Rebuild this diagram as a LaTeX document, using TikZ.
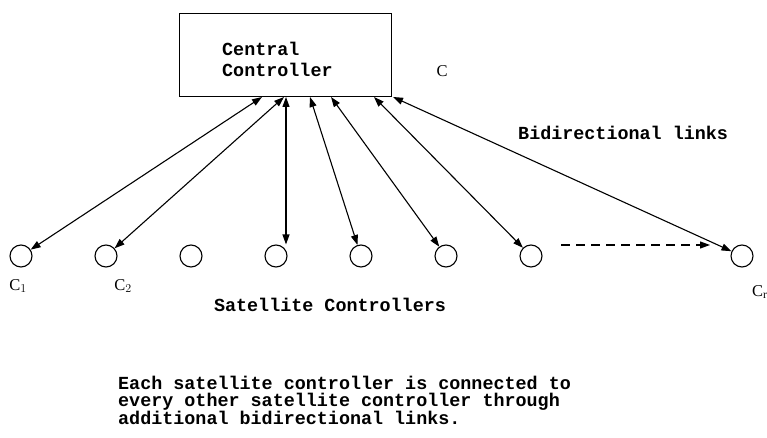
\documentclass[tikz,border=0pt]{standalone}
\usepackage{fontspec}
\setmonofont{Liberation Mono}
\setmainfont{Liberation Serif}
\usetikzlibrary{arrows.meta,calc}
\begin{document}
\begin{tikzpicture}[x=1pt,y=-1pt,
  lbl/.style={font=\fontsize{18.4}{17}\selectfont\ttfamily\bfseries, inner sep=0pt, anchor=west, align=left},
  sat/.style={circle, draw, line width=1.1pt, minimum size=22pt, inner sep=0pt},
  serifl/.style={font=\fontsize{16.5}{16.5}\selectfont\rmfamily, inner sep=0pt},
  link/.style={line width=1.1pt, {Triangle[length=10pt,width=7pt]}-{Triangle[length=10pt,width=7pt]}},
  every node/.style={inner sep=0pt}]
\useasboundingbox (0,0) rectangle (767,438);
\node[draw, line width=1.1pt, minimum width=212pt, minimum height=83.5pt] (box) at (285.5,55) {};
\node[lbl] (cc) at (222,59) {Central\\[4pt]Controller};
\node[serifl] (clab) at (442,71) {C};
\foreach \i/\x in {1/21,2/106,3/191,4/276,5/361,6/446,7/531,8/742}
  \node[sat] (c\i) at (\x,256) {};
\coordinate (p1) at (262,97);
\coordinate (p2) at (284,97);
\coordinate (p3) at (286,97);
\coordinate (p4) at (310,97);
\coordinate (p5) at (331,97);
\coordinate (p6) at (374,97);
\coordinate (p7) at (393,97);
\draw[link] (p1) -- (c1);
\draw[link] (p2) -- (c2);
\draw[link] (p3) -- (p3 |- c4.north);
\draw[link] (p4) -- (c5);
\draw[link] (p5) -- (c6);
\draw[link] (p6) -- (c7);
\draw[link] (p7) -- (c8);
\coordinate (d1) at (561,245);
\coordinate (d2) at (710,245);
\draw[line width=1.1pt, dash pattern=on 9pt off 6pt, -{Triangle[length=10pt,width=7pt]}] (d1) -- (d2);
\node[lbl] (bl) at (518,133) {Bidirectional links};
\node[serifl] (l1) at (18,286) {C$_{\scriptstyle 1}$};
\node[serifl] (l2) at (123,286) {C$_{\scriptstyle 2}$};
\node[serifl, anchor=west] (l8) at (752,292) {C$_{\scriptstyle \mathrm{r}}$};
\node[lbl, anchor=center] (sc) at (330,305) {Satellite Controllers};
\node[lbl, anchor=north west] (note) at (118,376) {Each satellite controller is connected to\\every other satellite controller through\\additional bidirectional links.};
\end{tikzpicture}
\end{document}
